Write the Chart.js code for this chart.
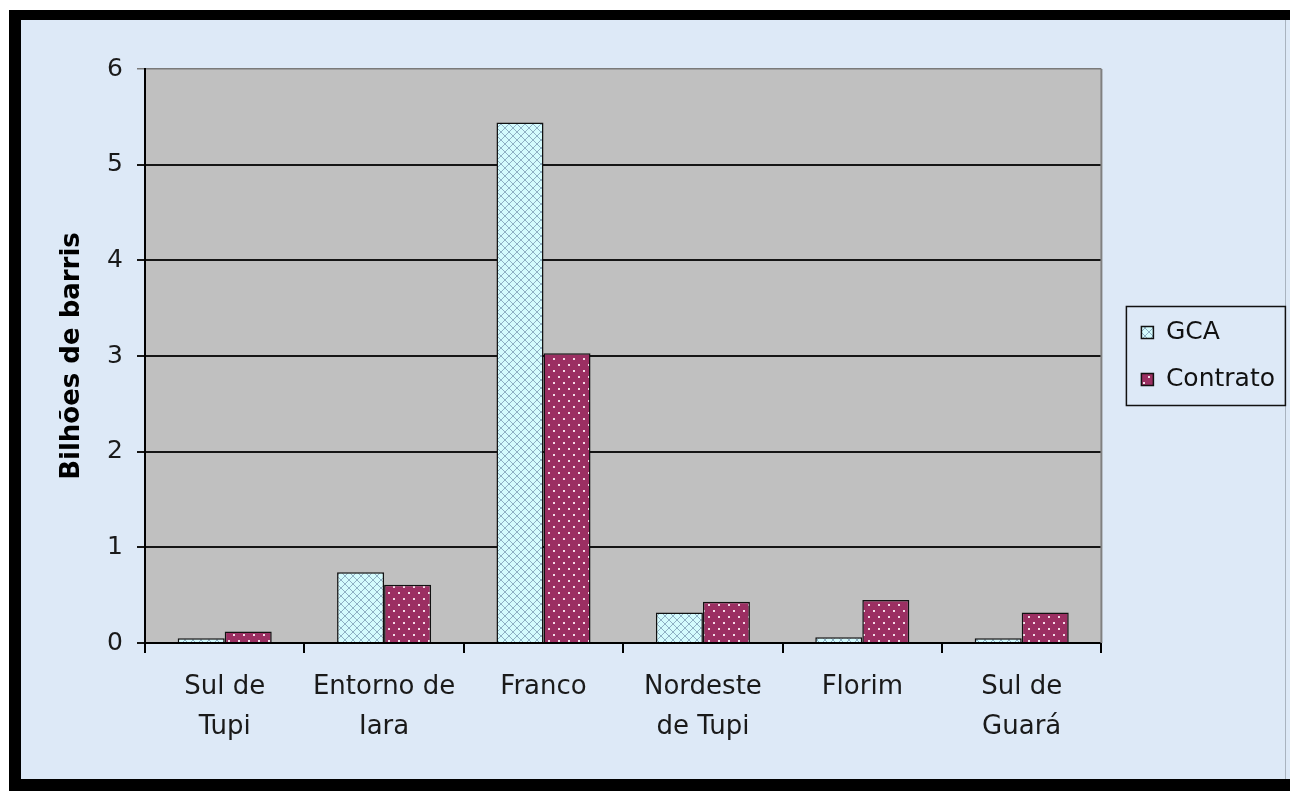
<!DOCTYPE html>
<html lang="pt">
<head>
<meta charset="utf-8">
<title>Bilhões de barris</title>
<script src="https://cdn.jsdelivr.net/npm/chart.js@4.4.1/dist/chart.umd.min.js"></script>
<style>
  html, body { margin: 0; padding: 0; background: #ffffff; }
  #frame { position: absolute; left: 9px; top: 10px; width: 1281px; height: 781px; background: #000; }
  #panel { position: absolute; left: 21px; top: 20px; width: 1269px; height: 759px; background: #dde9f7; }
  #edge { position: absolute; left: 1285px; top: 20px; width: 1px; height: 759px; background: #a9b3bf; }
  #wrap { position: absolute; left: 21px; top: 20px; width: 1266px; height: 759px; }
</style>
</head>
<body>
<div id="frame"></div>
<div id="panel"></div>
<div id="edge"></div>
<div id="wrap"><canvas id="chart" width="1266" height="759"></canvas></div>
<script>
// Campos do pré-sal: volumes em bilhões de barris
const categories = [['Sul de', 'Tupi'], ['Entorno de', 'Iara'], ['Franco'], ['Nordeste', 'de Tupi'], ['Florim'], ['Sul de', 'Guará']];
const gcaValues = [0.05, 0.74, 5.44, 0.32, 0.06, 0.05];
const contratoValues = [0.12, 0.61, 3.03, 0.43, 0.45, 0.32];
const seriesNames = ['GCA', 'Contrato'];
const yTicks = [0, 1, 2, 3, 4, 5, 6];
const yTitle = 'Bilhões de barris';

// Hachura cruzada (azul claro) e pontilhado (vinho) para as barras
function crossPattern() {
  const c = document.createElement('canvas');
  c.width = 8; c.height = 8;
  const g = c.getContext('2d');
  g.fillStyle = '#d4fbfd';
  g.fillRect(0, 0, 8, 8);
  g.strokeStyle = '#8fb0c4';
  g.lineWidth = 1;
  g.beginPath();
  g.moveTo(0, 0); g.lineTo(8, 8);
  g.moveTo(8, 0); g.lineTo(0, 8);
  g.stroke();
  return g.createPattern(c, 'repeat');
}
function dotPattern() {
  const c = document.createElement('canvas');
  c.width = 10; c.height = 12;
  const g = c.getContext('2d');
  g.fillStyle = '#9b2f62';
  g.fillRect(0, 0, 10, 12);
  g.fillStyle = '#f3dbe6';
  g.fillRect(2, 2, 2, 2);
  g.fillRect(7, 8, 2, 2);
  return g.createPattern(c, 'repeat');
}

const FONT = 'DejaVu Sans';

const plotArea = {
  id: 'plotArea',
  beforeDraw(chart) {
    const { ctx, chartArea: a } = chart;
    ctx.save();
    ctx.fillStyle = '#c0c0c0';
    ctx.fillRect(a.left, a.top, a.right - a.left, a.bottom - a.top);
    ctx.restore();
  },
  beforeDatasetsDraw(chart) {
    const { ctx, chartArea: a } = chart;
    ctx.save();
    ctx.strokeStyle = '#808080';
    ctx.lineWidth = 2;
    ctx.beginPath();
    ctx.moveTo(a.right, a.top);
    ctx.lineTo(a.right, a.bottom);
    ctx.stroke();
    ctx.restore();
  }
};

// Caixa da legenda, deslocada para a direita da área de plotagem
const legendBox = {
  id: 'legendBox',
  afterLayout(chart) {
    const lg = chart.legend;
    const d = chart.chartArea.right + 18 - lg.left;
    lg.left += d;
    lg.right += d;
  },
  afterDraw(chart) {
    const lg = chart.legend;
    const hb = lg.legendHitBoxes;
    if (!hb || hb.length < 2) return;
    const c0 = hb[0].top + hb[0].height / 2;
    const c1 = hb[hb.length - 1].top + hb[hb.length - 1].height / 2;
    const { ctx } = chart;
    const x = chart.chartArea.right + 25;
    ctx.save();
    ctx.strokeStyle = '#111';
    ctx.lineWidth = 1.5;
    ctx.strokeRect(x, c0 - 26, 159, (c1 + 26) - (c0 - 26));
    ctx.restore();
  }
};

new Chart(document.getElementById('chart'), {
  type: 'bar',
  data: {
    labels: categories,
    datasets: [
      {
        label: seriesNames[0],
        data: gcaValues,
        backgroundColor: crossPattern(),
        borderColor: '#111',
        borderWidth: 1.5,
        barPercentage: 1.0,
        categoryPercentage: 0.59
      },
      {
        label: seriesNames[1],
        data: contratoValues,
        backgroundColor: dotPattern(),
        borderColor: '#111',
        borderWidth: 1.5,
        barPercentage: 1.0,
        categoryPercentage: 0.59
      }
    ]
  },
  options: {
    responsive: false,
    animation: false,
    layout: { padding: { top: 49, right: 20, bottom: 0, left: 0 } },
    plugins: {
      tooltip: { enabled: false },
      legend: {
        position: 'right',
        fullSize: false,
        maxWidth: 186,
        labels: {
          boxWidth: 12,
          boxHeight: 12,
          padding: 22,
          color: '#111',
          font: { family: FONT, size: 25 }
        }
      }
    },
    scales: {
      x: {
        afterFit(scale) { scale.height = 136; },
        border: { display: true, color: '#000', width: 2 },
        grid: {
          offset: true,
          drawOnChartArea: false,
          drawTicks: true,
          tickLength: 10,
          color: '#000',
          lineWidth: 2
        },
        ticks: {
          padding: 14,
          color: '#1a1a1a',
          maxRotation: 0,
          autoSkip: false,
          font: { family: FONT, size: 26, lineHeight: 1.54 }
        }
      },
      y: {
        min: yTicks[0],
        max: yTicks[yTicks.length - 1],
        afterFit(scale) { scale.width = 124; },
        afterBuildTicks(scale) { scale.ticks = yTicks.map(v => ({ value: v })); },
        border: { display: true, color: '#000', width: 2 },
        grid: {
          color: ctx => (ctx.tick && ctx.tick.value === 6 ? '#7a7a7a' : '#151515'),
          lineWidth: ctx => (ctx.tick && ctx.tick.value === 6 ? 1.5 : 2),
          tickLength: 8
        },
        ticks: {
          padding: 14,
          color: '#1a1a1a',
          font: { family: FONT, size: 25 }
        },
        title: {
          display: true,
          text: yTitle,
          color: '#000',
          padding: { top: 36, bottom: 0 },
          font: { family: FONT, size: 26, weight: 'bold' }
        }
      }
    }
  },
  plugins: [plotArea, legendBox]
});
</script>
</body>
</html>
